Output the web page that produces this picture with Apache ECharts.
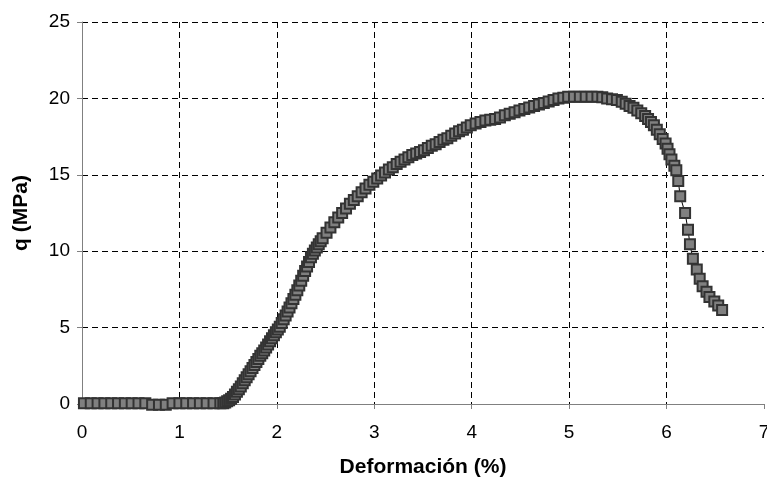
<!DOCTYPE html>
<html>
<head>
<meta charset="utf-8">
<script src="https://cdn.jsdelivr.net/npm/echarts@6/dist/echarts.min.js"></script>
<style>
html,body{margin:0;padding:0;background:#fff;}
#chart{width:767px;height:481px;}
</style>
</head>
<body>
<div id="chart"></div>
<script>
const xTicks = [0, 1, 2, 3, 4, 5, 6, 7];
const yTicks = [0, 5, 10, 15, 20, 25];
const xName = 'Deformación (%)';
const yName = 'q (MPa)';

const strain = [
  0.02,0.09,0.16,0.23,0.30,0.37,0.44,0.51,0.58,0.65,0.72,0.79,0.86,0.93,1.00,1.07,1.14,1.21,1.28,1.35,1.42,
  1.45,1.47,1.49,1.51,1.53,1.55,1.57,1.59,1.61,1.63,1.65,1.67,1.69,1.71,1.73,1.75,1.77,1.79,1.81,1.83,1.85,1.87,1.89,1.91,
  1.93,1.95,1.97,1.99,2.01,2.03,2.05,2.07,2.09,2.11,2.13,2.15,2.17,2.19,2.21,2.23,2.25,2.27,2.29,2.31,2.33,2.35,2.37,2.39,
  2.41,2.43,2.45,2.47,2.51,2.55,2.59,2.63,2.67,2.71,2.75,2.79,2.83,2.87,2.91,2.95,2.99,3.03,3.07,3.11,3.15,3.19,3.23,3.27,
  3.31,3.35,3.39,3.43,3.47,3.51,3.55,3.59,3.63,3.67,3.71,3.75,3.79,3.83,3.87,3.91,3.95,3.99,
  4.04,4.09,4.14,4.19,4.24,4.29,4.34,4.39,4.44,4.49,4.54,4.59,4.64,4.69,4.74,4.79,4.84,4.89,4.94,4.99,
  5.05,5.11,5.17,5.23,5.29,5.34,5.39,5.44,5.49,5.54,5.58,5.62,5.66,5.70,5.74,5.78,5.81,5.84,5.87,5.90,5.93,5.96,5.99,
  6.01,6.03,6.05,6.08,6.10,6.12,6.14,6.19,6.22,6.24,6.27,6.31,6.34,6.37,6.41,6.44,6.49,6.53,6.57
];
const stress = [
  0.05,0.05,0.05,0.05,0.05,0.05,0.05,0.05,0.05,0.05,-0.05,-0.05,-0.05,0.05,0.05,0.05,0.05,0.05,0.05,0.05,0.05,
  0.05,0.10,0.18,0.25,0.35,0.45,0.62,0.80,0.97,1.15,1.35,1.55,1.75,1.95,2.15,2.35,2.55,2.75,2.95,3.15,3.32,3.50,3.70,3.90,
  4.10,4.30,4.50,4.70,4.87,5.05,5.30,5.55,5.80,6.05,6.32,6.60,6.87,7.15,7.45,7.75,8.07,8.40,8.70,9.00,9.30,9.60,9.83,10.05,
  10.25,10.45,10.65,10.85,11.20,11.55,11.90,12.20,12.50,12.80,13.10,13.35,13.60,13.85,14.10,14.35,14.55,14.75,14.95,15.15,15.35,15.50,15.70,15.85,
  16.00,16.15,16.30,16.40,16.50,16.60,16.75,16.90,17.00,17.15,17.30,17.40,17.55,17.70,17.85,17.95,18.10,18.25,
  18.35,18.45,18.55,18.60,18.65,18.75,18.90,19.00,19.10,19.20,19.30,19.40,19.50,19.60,19.70,19.80,19.90,20.00,20.05,20.10,
  20.10,20.10,20.10,20.10,20.10,20.07,20.00,19.95,19.90,19.78,19.65,19.50,19.38,19.20,19.02,18.85,18.65,18.45,18.25,17.95,17.65,17.35,17.05,
  16.70,16.35,16.00,15.60,15.30,14.60,13.60,12.50,11.40,10.45,9.50,8.80,8.20,7.70,7.35,7.00,6.70,6.45,6.15
];

const points = strain.map((x, i) => [x, stress[i]]);
const chart = echarts.init(document.getElementById('chart'), null, {renderer: 'canvas'});
const font = "'Liberation Sans', Arial, sans-serif";
chart.setOption({
  animation: false,
  backgroundColor: '#ffffff',
  grid: {left: 82, right: 3, top: 22, bottom: 77, containLabel: false, outerBoundsMode: 'none'},
  xAxis: {
    type: 'value',
    min: xTicks[0], max: xTicks[xTicks.length - 1], interval: 1,
    name: xName, nameLocation: 'middle', nameGap: 53,
    nameTextStyle: {fontFamily: font, fontSize: 21, fontWeight: 'bold', color: '#000'},
    axisLine: {show: true, onZero: false, lineStyle: {color: '#808080', width: 1}},
    axisTick: {show: true, inside: false, length: 5, lineStyle: {color: '#808080'}},
    axisLabel: {margin: 19, fontFamily: font, fontSize: 19, color: '#000'},
    splitLine: {show: true, showMaxLine: false, lineStyle: {color: '#000', type: [6, 4], width: 1}}
  },
  yAxis: {
    type: 'value',
    min: yTicks[0], max: yTicks[yTicks.length - 1], interval: 5,
    name: yName, nameLocation: 'middle', nameGap: 50,
    nameTextStyle: {fontFamily: font, fontSize: 21, fontWeight: 'bold', color: '#000'},
    axisLine: {show: true, onZero: false, lineStyle: {color: '#808080', width: 1}},
    axisTick: {show: true, inside: false, length: 5, lineStyle: {color: '#808080'}},
    axisLabel: {margin: 12, fontFamily: font, fontSize: 19, color: '#000'},
    splitLine: {show: true, lineStyle: {color: '#000', type: [6, 4], width: 1}}
  },
  series: [{
    type: 'line',
    data: points,
    clip: false,
    symbol: 'rect',
    symbolSize: 10,
    showAllSymbol: true,
    lineStyle: {color: '#000', width: 1},
    itemStyle: {color: '#808080', borderColor: '#333333', borderWidth: 2},
    emphasis: {disabled: true}
  }]
});
</script>
</body>
</html>
